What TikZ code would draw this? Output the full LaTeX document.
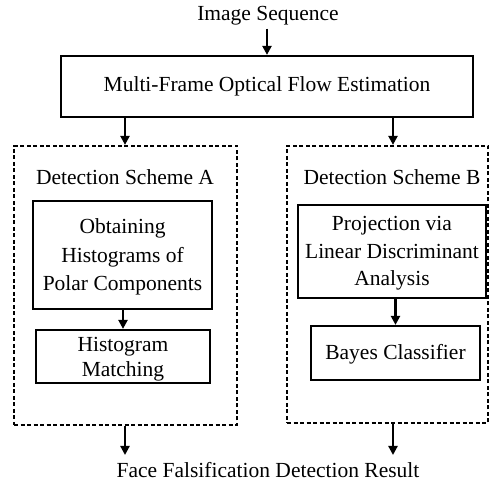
\documentclass[tikz,border=0pt]{standalone}
\usepackage{fontspec}
\setmainfont{Liberation Serif}
\usetikzlibrary{arrows.meta}
\begin{document}
\begin{tikzpicture}[x=1pt,y=-1pt,
  txt/.style={font=\fontsize{21.5}{28.5}\selectfont, inner sep=0pt},
  box/.style={draw, line width=2.2pt},
  dbox/.style={draw, line width=2.2pt, dash pattern=on 4pt off 2.5pt},
  arr/.style={line width=2.2pt, -{Triangle[length=9pt,width=9pt]}}]
\useasboundingbox (0,0) rectangle (491,481);
\node[txt] (in) at (268,16) {Image Sequence};
\node[box, minimum width=412pt, minimum height=61pt, inner sep=0pt] (mf) at (267,86.5) {};
\node[txt] at (mf.center) {Multi-Frame Optical Flow Estimation};
\node[dbox, minimum width=223pt, minimum height=279pt, inner sep=0pt] (sa) at (125.5,285.5) {};
\node[dbox, minimum width=201pt, minimum height=277pt, inner sep=0pt] (sb) at (387.5,284.5) {};
\node[txt] (la) at (125,177) {Detection Scheme A};
\node[txt] (lb) at (392,177) {Detection Scheme B};
\node[box, minimum width=179pt, minimum height=108pt, inner sep=0pt] (a1) at (122.5,255) {};
\node[txt, align=center] at ([yshift=-2pt]a1.center) {Obtaining\\Histograms of\\Polar Components};
\node[box, minimum width=174pt, minimum height=53pt, inner sep=0pt] (a2) at (123,356.5) {};
\node[txt, align=center, font=\fontsize{21.5}{25}\selectfont] at ([yshift=-3pt]a2.center) {Histogram\\Matching};
\node[box, minimum width=188pt, minimum height=93pt, inner sep=0pt] (b1) at (392,251.5) {};
\node[txt, align=center, font=\fontsize{21.5}{27.5}\selectfont] at ([yshift=-2pt]b1.center) {Projection via\\Linear Discriminant\\Analysis};
\node[box, minimum width=169pt, minimum height=54pt, inner sep=0pt] (b2) at (395.5,353) {};
\node[txt] at ([yshift=-1pt]b2.center) {Bayes Classifier};
\node[txt] (out) at (268,470) {Face Falsification Detection Result};
\coordinate (xa) at (125,0);
\coordinate (xb) at (393,0);
\coordinate (oa) at (125,455);
\coordinate (ob) at (393,455);
\draw[arr] (in.south -| mf.north) ++(0,3) -- (mf.north);
\draw[arr] (mf.south -| xa) -- (sa.north -| xa);
\draw[arr] (mf.south -| xb) -- (sb.north -| xb);
\draw[arr] (a1.south -| a2.north) -- (a2.north);
\draw[arr] (b1.south -| b2.north) -- (b2.north);
\draw[arr] (sa.south -| oa) -- (oa);
\draw[arr] (sb.south -| ob) -- (ob);
\end{tikzpicture}
\end{document}
